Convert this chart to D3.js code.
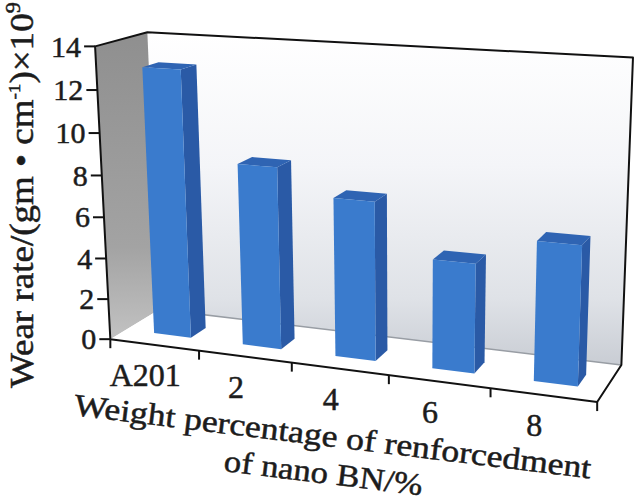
<!DOCTYPE html>
<html><head><meta charset="utf-8">
<script src="https://cdn.jsdelivr.net/npm/d3@7"></script>
<style>html,body{margin:0;padding:0;background:#fff;}svg{display:block}</style>
</head><body>
<svg id="chart" width="640" height="501"></svg>
<script>
// ---------- data ----------
const categories = ["A201", "2", "4", "6", "8"];
const wearRate = [12.9, 8.7, 7.5, 5.1, 6.4];
const yTicks = [0, 2, 4, 6, 8, 10, 12, 14];
const yTitleParts = ["Wear rate/(gm \u2022 cm", "-1", ")\u00d710", "9"];
const xTitleLines = ["Weight percentage of renforcedment", "of nano BN/%"];

// ---------- frame geometry (world X,Y,Z in 0..1 -> pixel) used to calibrate a perspective camera ----------
const frameCalib = [
  [0, 0, 0, 110, 338], [0, 1, 0, 95, 47], [0, 1, 1, 148, 32], [0, 0, 1, 159, 311],
  [1, 1, 1, 633, 57], [1, 0, 1, 621, 364], [1, 0, 0, 597, 403],
  [0.2, 0, 0, 200, 350], [0.4, 0, 0, 292, 362.5], [0.6, 0, 0, 390, 375.5], [0.8, 0, 0, 490, 389],
  [0, 2/14, 0, 108, 299], [0, 4/14, 0, 106, 258], [0, 6/14, 0, 104, 216],
  [0, 8/14, 0, 101.5, 177], [0, 10/14, 0, 99.5, 132], [0, 12/14, 0, 97, 91]
];
const CX = 360, CY = 220, S = 300;

function fitCamera(pts) {
  const rows = [], rhs = [];
  for (const [X, Y, Z, u0, v0] of pts) {
    const u = (u0 - CX) / S, v = (v0 - CY) / S;
    rows.push([X, Y, Z, 1, 0, 0, 0, 0, -u * X, -u * Y, -u * Z]); rhs.push(u);
    rows.push([0, 0, 0, 0, X, Y, Z, 1, -v * X, -v * Y, -v * Z]); rhs.push(v);
  }
  const n = 11;
  const M = Array.from({length: n}, () => new Array(n + 1).fill(0));
  rows.forEach((r, k) => {
    for (let i = 0; i < n; i++) {
      for (let j = 0; j < n; j++) M[i][j] += r[i] * r[j];
      M[i][n] += r[i] * rhs[k];
    }
  });
  for (let c = 0; c < n; c++) {
    let piv = c;
    for (let r = c + 1; r < n; r++) if (Math.abs(M[r][c]) > Math.abs(M[piv][c])) piv = r;
    [M[c], M[piv]] = [M[piv], M[c]];
    for (let r = 0; r < n; r++) {
      if (r === c) continue;
      const f = M[r][c] / M[c][c];
      for (let j = c; j <= n; j++) M[r][j] -= f * M[c][j];
    }
  }
  return M.map((row, i) => row[n] / row[i]);
}
const P = fitCamera(frameCalib);
function proj(X, Y, Z) {
  const w = P[8] * X + P[9] * Y + P[10] * Z + 1;
  return [(P[0] * X + P[1] * Y + P[2] * Z + P[3]) / w * S + CX,
          (P[4] * X + P[5] * Y + P[6] * Z + P[7]) / w * S + CY];
}

// ---------- scales ----------
const x = d3.scaleBand().domain(categories).range([0.007, 1.007]).paddingInner(0.58).paddingOuter(0.29);
const xEdge = d3.scaleLinear().domain([0, categories.length]).range([0, 1]);
const y = d3.scaleLinear().domain([0, 14]).range([0, 1]);
const barZ = [0.31, 0.63];

const svg = d3.select("#chart");
const defs = svg.append("defs");
const lg1 = defs.append("linearGradient").attr("id", "leftWall").attr("x1", 0).attr("y1", 0).attr("x2", 0).attr("y2", 1);
lg1.append("stop").attr("offset", "0%").attr("stop-color", "#8f8f8f");
lg1.append("stop").attr("offset", "70%").attr("stop-color", "#a3a3a3");
lg1.append("stop").attr("offset", "100%").attr("stop-color", "#c2c2c2");
const lg2 = defs.append("linearGradient").attr("id", "backWall").attr("x1", 0).attr("y1", 0).attr("x2", 0).attr("y2", 1);
lg2.append("stop").attr("offset", "0%").attr("stop-color", "#ffffff");
lg2.append("stop").attr("offset", "40%").attr("stop-color", "#f4f5f8");
lg2.append("stop").attr("offset", "80%").attr("stop-color", "#dfe2e7");
lg2.append("stop").attr("offset", "100%").attr("stop-color", "#c9cdd4");

const line = d3.line();
const poly = pts => line(pts.map(p => proj(...p))) + "Z";

// walls and floor
svg.append("path").attr("d", poly([[0,0,1],[0,1,1],[1,1,1],[1,0,1]])).attr("fill", "url(#backWall)");
svg.append("path").attr("d", poly([[0,0,0],[0,1,0],[0,1,1],[0,0,1]])).attr("fill", "url(#leftWall)");
svg.append("path").attr("d", poly([[0,0,0],[0,0,1],[1,0,1],[1,0,0]])).attr("fill", "#ffffff");
svg.append("path").attr("d", line([proj(0,0,1), proj(1,0,1)])).attr("stroke", "#989da4").attr("stroke-width", 1.6).attr("fill", "none");

// bars
const bars = svg.append("g");
categories.forEach((c, i) => {
  const X0 = x(c), X1 = x(c) + x.bandwidth(), Y1 = y(wearRate[i]), [Z0, Z1] = barZ;
  const g = bars.append("g");
  g.append("path").attr("d", poly([[X1,0,Z0],[X1,0,Z1],[X1,Y1,Z1],[X1,Y1,Z0]])).attr("fill", "#2a5aa6");
  g.append("path").attr("d", poly([[X0,Y1,Z0],[X1,Y1,Z0],[X1,Y1,Z1],[X0,Y1,Z1]])).attr("fill", "#2f64b3");
  g.append("path").attr("d", poly([[X0,0,Z0],[X1,0,Z0],[X1,Y1,Z0],[X0,Y1,Z0]])).attr("fill", "#3a7bcd");
});

// frame lines
const frame = svg.append("g").attr("fill", "none").attr("stroke", "#111").attr("stroke-width", 2).attr("stroke-linejoin", "round");
frame.append("path").attr("d", line([proj(0,0,0), proj(0,1,0), proj(0,1,1), proj(1,1,1), proj(1,0,1), proj(1,0,0), proj(0,0,0)]));

const serif = "'Liberation Serif', 'Times New Roman', serif";
const styleText = t => t.attr("font-family", serif).attr("fill", "#1c1c1c").attr("stroke", "#1c1c1c").attr("stroke-width", 0.5);

// y axis ticks & labels
const yAx = svg.append("g");
yTicks.forEach(t => {
  const [px, py] = proj(0, y(t), 0);
  yAx.append("line").attr("x1", px - 11).attr("x2", px).attr("y1", py).attr("y2", py).attr("stroke", "#111").attr("stroke-width", 2);
  styleText(yAx.append("text")).attr("x", px - 14).attr("y", py).attr("dy", "0.34em").attr("text-anchor", "end")
    .attr("font-size", 30).text(t);
});

// x axis ticks & labels
const xAx = svg.append("g");
d3.range(categories.length + 1).forEach(k => {
  const [px, py] = proj(xEdge(k), 0, 0);
  xAx.append("line").attr("x1", px).attr("x2", px).attr("y1", py).attr("y2", py + 9).attr("stroke", "#111").attr("stroke-width", 2);
});
categories.forEach((c, i) => {
  const [px, py] = proj(xEdge(i + 0.5), 0, 0);
  styleText(xAx.append("text")).attr("x", px - 9).attr("y", py + 41).attr("text-anchor", "middle")
    .attr("font-size", 32).text(c);
});

// titles
function fitText(t, target) {
  const w = t.node().getComputedTextLength();
  return target / w;
}
const xt1 = styleText(svg.append("text")).attr("font-size", 31).text(xTitleLines[0]);
xt1.attr("transform", `translate(73,415) rotate(7) scale(${fitText(xt1, 521)},1)`);
const xt2 = styleText(svg.append("text")).attr("font-size", 31).text(xTitleLines[1]);
xt2.attr("transform", `translate(223,471) rotate(7) scale(${fitText(xt2, 200)},1)`);

const yt = styleText(svg.append("text")).attr("font-size", 33);
yt.append("tspan").text(yTitleParts[0]);
yt.append("tspan").attr("font-size", 17).attr("dy", -13).text(yTitleParts[1]);
yt.append("tspan").attr("dy", 13).text(yTitleParts[2]);
yt.append("tspan").attr("font-size", 20).attr("dy", -13).text(yTitleParts[3]);
yt.attr("transform", `translate(33,388) rotate(-90) scale(${fitText(yt, 386)},1)`);
</script>
</body></html>
